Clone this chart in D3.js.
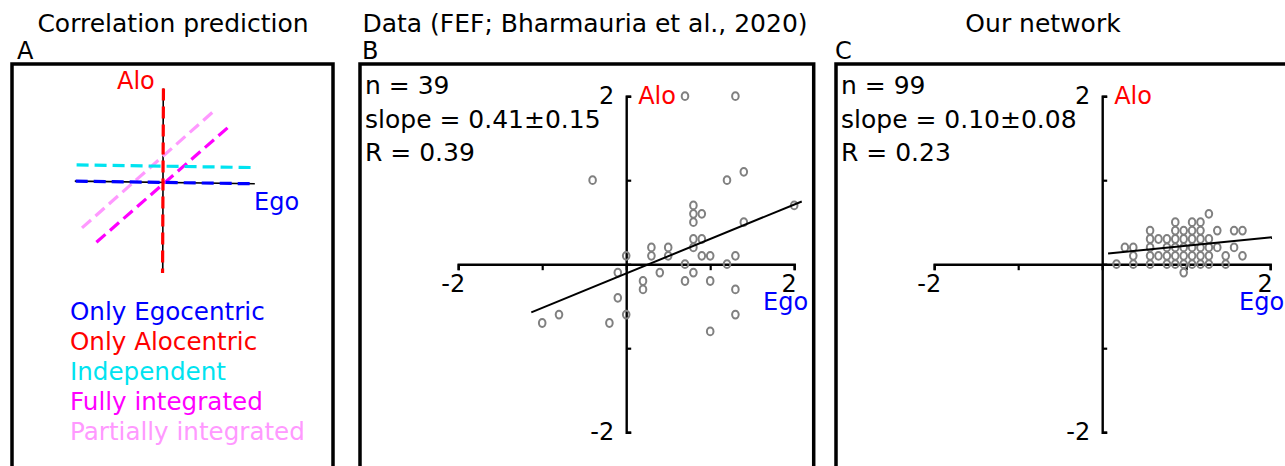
<!DOCTYPE html>
<html>
<head>
<meta charset="utf-8">
<script src="https://cdn.jsdelivr.net/npm/d3@7"></script>
<style>
  html, body { margin: 0; padding: 0; background: #fff; }
  svg { display: block; font-family: "DejaVu Sans", Verdana, sans-serif; }
</style>
</head>
<body>
<svg id="fig" width="1285" height="466"></svg>
<script>
// ---- Figure text ----
const panelTitles = ["Correlation prediction", "Data (FEF; Bharmauria et al., 2020)", "Our network"];
const panelLetters = ["A", "B", "C"];

// ---- Panel A: predicted Ego/Alo relationships (normalised units) ----
const predNames  = ["Only Egocentric", "Only Alocentric", "Independent", "Fully integrated", "Partially integrated"];
const predColors = ["#0000ff", "#ff0000", "#00e3f0", "#ff00ff", "#ff99ff"];
const predStart  = [[-0.97, 0.01], [0.005, 1.04], [-0.96, 0.19], [-0.74, -0.67], [-0.90, -0.51]];
const predEnd    = [[1.02, -0.02], [-0.005, -1.01], [1.04, 0.16], [0.75, 0.63], [0.59, 0.81]];
const predAxisH  = [[-0.98, 0.01], [1.02, -0.02]];
const predAxisV  = [[0.003, 1.04], [-0.003, -1.01]];
const predDrawOrder = [4, 3, 2, 0, 1];

// ---- Panel B: FEF data ----
const fefEgo = [-0.4, 1.2, 1.4, 0.8, 0.8, 0.9, 0.8, 2.0, 1.4, 0.8, 0.9, 0.8, 0.3, 0.5, 0.3, 0.5, 0.0, 0.9, 1.0, 1.3,
                0.7, 1.2, -0.1, 0.4, 0.8, 0.2, 0.7, 1.0, 0.2, 1.3, -0.1, 0.0, -0.8, -1.0, -0.2, 1.3, 1.0, 0.7, 1.3];
const fefAlo = [1.0, 1.0, 1.1, 0.7, 0.6, 0.6, 0.5, 0.7, 0.5, 0.3, 0.3, 0.2, 0.2, 0.2, 0.1, 0.1, 0.1, 0.1, 0.1, 0.1,
                0.0, 0.0, -0.1, -0.1, -0.1, -0.2, -0.2, -0.2, -0.3, -0.3, -0.4, -0.6, -0.6, -0.7, -0.7, -0.6, -0.8, 2.0, 2.0];
const fefStats = ["n = 39", "slope = 0.41\u00b10.15", "R = 0.39"];
const fefSlope = 0.41, fefIntercept = -0.11, fefFitRange = [-1.13, 2.09];

// ---- Panel C: network units ----
const netEgo = [0.17, 0.27, 0.37, 0.37, 0.37,
                0.57, 0.57, 0.57, 0.57, 0.57,
                0.67, 0.67,
                0.77, 0.77, 0.77, 0.77,
                0.87, 0.87, 0.87, 0.87, 0.87, 0.87,
                0.97, 0.97, 0.97, 0.97, 0.97, 0.97,
                1.07, 1.07, 1.07, 1.07, 1.07, 1.07,
                1.17, 1.17, 1.17, 1.17, 1.17, 1.17,
                1.27, 1.27, 1.27, 1.27, 1.27,
                1.37, 1.37, 1.47, 1.47, 1.57, 1.57, 1.67, 1.67];
const netAlo = [0.0, 0.2, 0.2, 0.1, 0.0,
                0.4, 0.3, 0.2, 0.1, 0.0,
                0.3, 0.1,
                0.3, 0.2, 0.1, 0.0,
                0.5, 0.4, 0.3, 0.2, 0.1, 0.0,
                0.4, 0.3, 0.2, 0.1, 0.0, -0.1,
                0.5, 0.4, 0.3, 0.2, 0.1, 0.0,
                0.5, 0.4, 0.3, 0.2, 0.1, 0.0,
                0.6, 0.3, 0.2, 0.1, 0.0,
                0.4, 0.2, 0.1, 0.0, 0.4, 0.2, 0.4, 0.1];
const netStats = ["n = 99", "slope = 0.10\u00b10.08", "R = 0.23"];
const netSlope = 0.10, netIntercept = 0.12, netFitRange = [0.07, 2.02];

// ---- Shared axis ticks ----
const axisTicks = [-2, -1, 0, 1, 2];
const labelledTicks = [-2, 2];
const labelledTickText = ["-2", "2"];
const egoLabel = "Ego", aloLabel = "Alo";

// ---- Layout ----
const svg = d3.select("#fig");
const FS = 25;
const titleX = [173, 585, 1043];
const letterX = [17, 362, 835];
const boxes = [{x: 12, w: 321}, {x: 360, w: 453.7}, {x: 836, w: 454}];
const boxTop = 64;
const originY = 264.2;
const unitPx = 84;

panelTitles.forEach((t, i) => {
  svg.append("text").attr("x", titleX[i]).attr("y", 32)
    .attr("text-anchor", "middle").attr("font-size", FS).attr("fill", "#000").text(t);
  svg.append("text").attr("x", letterX[i]).attr("y", 59)
    .attr("font-size", 24).attr("fill", "#000").text(panelLetters[i]);
});

boxes.forEach(b => {
  svg.append("rect").attr("x", b.x).attr("y", boxTop).attr("width", b.w).attr("height", 440)
    .attr("fill", "none").attr("stroke", "#000").attr("stroke-width", 3.5);
});

// ---- Panel A ----
(function () {
  const x = d3.scaleLinear().domain([-1, 1]).range([73, 253]);
  const y = d3.scaleLinear().domain([-1, 1]).range([272, 92]);
  const line = d3.line().x(d => x(d[0])).y(d => y(d[1]));
  const g = svg.append("g");
  [predAxisH, predAxisV].forEach(a => {
    g.append("path").attr("d", line(a)).attr("stroke", "#000").attr("stroke-width", 1.6).attr("fill", "none");
  });
  predDrawOrder.forEach(i => {
    g.append("path").attr("d", line([predStart[i], predEnd[i]]))
      .attr("stroke", predColors[i]).attr("stroke-width", 3.2)
      .attr("stroke-dasharray", "12,6").attr("fill", "none");
  });
  g.append("text").attr("x", 117).attr("y", 89).attr("font-size", 24).attr("fill", "#ff0000").text(aloLabel);
  g.append("text").attr("x", 254).attr("y", 210).attr("font-size", 24).attr("fill", "#0000ff").text(egoLabel);
  predNames.forEach((n, i) => {
    g.append("text").attr("x", 70).attr("y", 320 + 30 * i).attr("font-size", 24.6)
      .attr("fill", predColors[i]).text(n);
  });
})();

// ---- Panels B and C ----
function scatterPanel(box, ego, alo, slope, intercept, fitRange, stats) {
  const ox = box.x + 266.2;
  const x = d3.scaleLinear().domain([-2, 2]).range([ox - 2 * unitPx, ox + 2 * unitPx]);
  const y = d3.scaleLinear().domain([-2, 2]).range([originY + 2 * unitPx, originY - 2 * unitPx]);
  const g = svg.append("g");

  const xa = g.append("g").attr("transform", `translate(0,${y(0)})`)
    .call(d3.axisBottom(x).tickValues(axisTicks).tickSize(6).tickSizeOuter(6).tickFormat(""));
  const ya = g.append("g").attr("transform", `translate(${x(0)},0)`)
    .call(d3.axisRight(y).tickValues(axisTicks).tickSize(5).tickSizeOuter(5).tickFormat(""));
  [xa, ya].forEach(a => {
    a.select(".domain").attr("stroke", "#000").attr("stroke-width", 2.4);
    a.selectAll(".tick line").attr("stroke", "#000").attr("stroke-width", 2.2);
  });

  labelledTicks.forEach((v, i) => {
    g.append("text").attr("x", x(v) - 5).attr("y", y(0) + 28)
      .attr("text-anchor", "middle").attr("font-size", 24).text(labelledTickText[i]);
    g.append("text").attr("x", x(0) - 12).attr("y", y(v) + 7.5)
      .attr("text-anchor", "end").attr("font-size", 24).text(labelledTickText[i]);
  });
  g.append("text").attr("x", x(0) + 12).attr("y", y(2) + 7.5)
    .attr("font-size", 24).attr("fill", "#ff0000").text(aloLabel);
  g.append("text").attr("x", x(2) + 14).attr("y", y(0) + 46)
    .attr("text-anchor", "end").attr("font-size", 24).attr("fill", "#0000ff").text(egoLabel);

  g.selectAll("ellipse.pt").data(ego.map((e, i) => [e, alo[i]])).join("ellipse")
    .attr("class", "pt")
    .attr("cx", d => x(d[0])).attr("cy", d => y(d[1]))
    .attr("rx", 3.3).attr("ry", 3.9)
    .attr("fill", "none").attr("stroke", "#808080").attr("stroke-width", 2);

  g.append("path")
    .attr("d", d3.line().x(d => x(d)).y(d => y(slope * d + intercept))(fitRange))
    .attr("stroke", "#000").attr("stroke-width", 2).attr("fill", "none");

  stats.forEach((s, i) => {
    g.append("text").attr("x", box.x + 5).attr("y", [94, 128, 161][i])
      .attr("font-size", FS).text(s);
  });
}

scatterPanel(boxes[1], fefEgo, fefAlo, fefSlope, fefIntercept, fefFitRange, fefStats);
scatterPanel(boxes[2], netEgo, netAlo, netSlope, netIntercept, netFitRange, netStats);
</script>
</body>
</html>
